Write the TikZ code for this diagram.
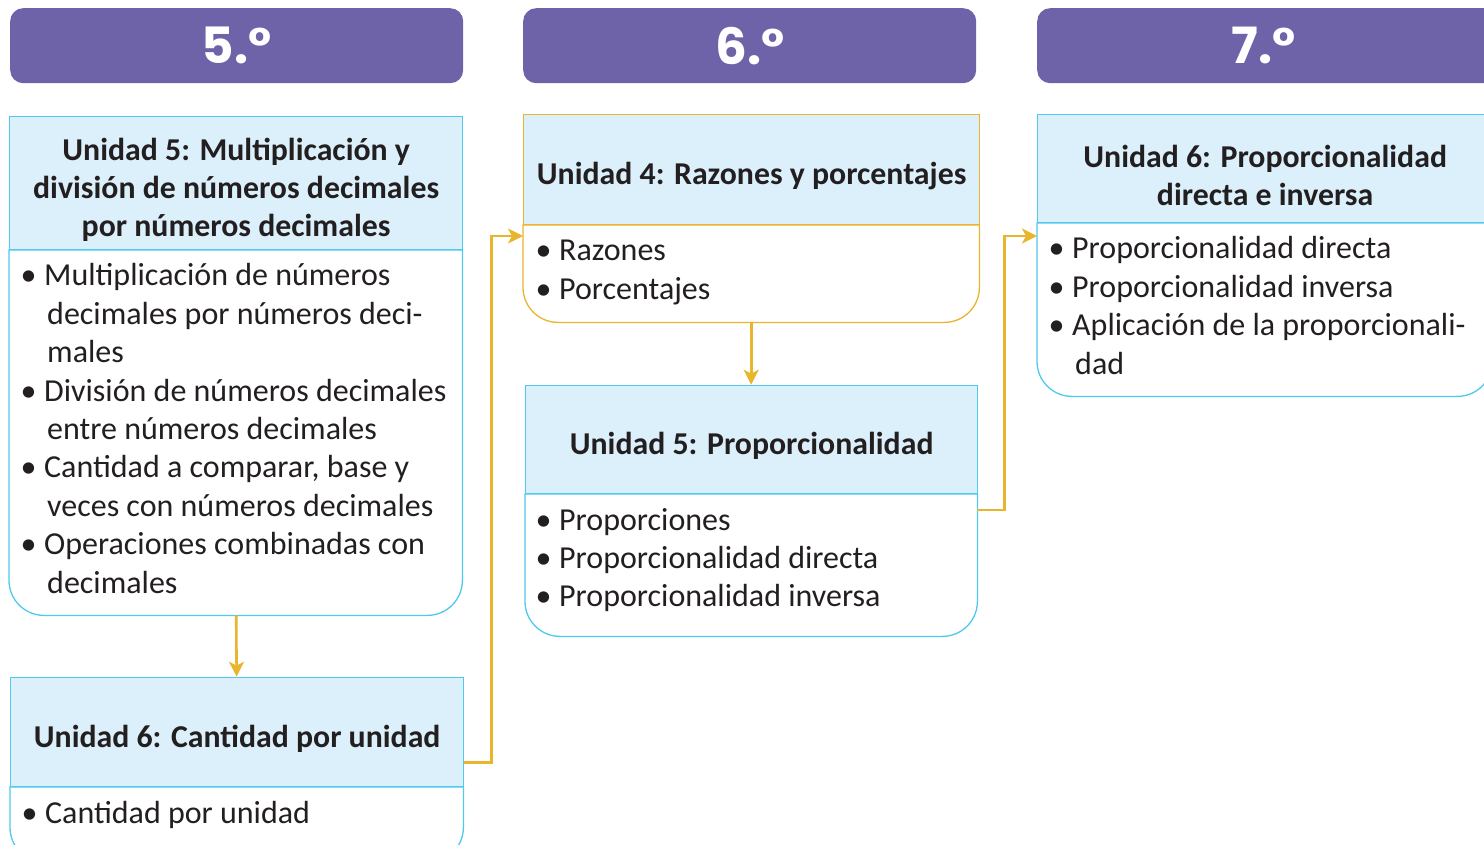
\documentclass[tikz,border=0pt]{standalone}
\usepackage{fontspec}
\setmainfont{Carlito}
\newfontfamily\gradefont{Poppins}
\usetikzlibrary{arrows.meta,calc}
\definecolor{gpurple}{HTML}{6E63A8}
\definecolor{ucyan}{HTML}{4FC9F0}
\definecolor{ufill}{HTML}{DBF0FB}
\definecolor{uyellow}{HTML}{E8B52C}
\definecolor{utext}{HTML}{231F20}
\newcommand{\bli}[1]{\makebox[21pt][l]{\hspace*{-2.5pt}•}#1}
\newcommand{\cli}[1]{\hspace*{24pt}#1}
\begin{document}
\begin{tikzpicture}[x=1pt,y=1pt,
  grade/.style={fill=gpurple,rounded corners=13pt,minimum height=75pt,inner sep=0pt,
    text=white,font=\gradefont\bfseries\fontsize{50}{54}\selectfont},
  unithead/.style={rectangle,fill=ufill,draw=ucyan,line width=1.3pt,inner sep=0pt},
  headtext/.style={inner sep=0pt,align=center,text=utext,font=\bfseries\fontsize{31.8}{38.2}\selectfont},
  unitbody/.style={rectangle,inner sep=0pt},
  outl/.style={draw=ucyan,line width=1.3pt},
  items/.style={anchor=base west,inner sep=0pt,text=utext,font=\fontsize{32}{38.4}\selectfont},
  conn/.style={draw=uyellow,line width=2.6pt,-{Stealth[length=15pt,width=15pt,inset=4pt]}}
]
\useasboundingbox (0,0) rectangle (1484,-845);
\clip (0,0) rectangle (1484,-845);
% grade bars
\node[grade,minimum width=453pt,anchor=north west] (g5) at (10,-8) {5.°};
\node[grade,minimum width=453pt,anchor=north west] (g6) at (523,-8) {6.°};
\node[grade,minimum width=475pt,anchor=north west] (g7) at (1037,-8) {\hspace*{-22pt}7.°};

% Box A
\node[unitbody,minimum width=453pt,minimum height=365pt,anchor=north west] (bA) at (9,-250) {};
\draw[outl,fill=white] (bA.north west) -- (bA.north east) -- ($(bA.south east)+(0,35)$)
  arc[start angle=0,end angle=-90,radius=35pt] -- ($(bA.south west)+(35,0)$)
  arc[start angle=270,end angle=180,radius=35pt] -- cycle;
\node[unithead,minimum width=453pt,minimum height=133pt,anchor=south west] (hA) at (bA.north west) {};
\node[headtext] (hAt) at ($(hA.center)+(0,-7)$)
  {Unidad 5: Multiplicación y\\división de números decimales\\por números decimales};
\node[items] (tA) at (23,-286) {\parbox[t]{440pt}{\raggedright
  \bli{Multiplicación de números}\\
  \cli{decimales por números deci-}\\
  \cli{males}\\
  \bli{División de números decimales}\\
  \cli{entre números decimales}\\
  \bli{Cantidad a comparar, base y}\\
  \cli{veces con números decimales}\\
  \bli{Operaciones combinadas con}\\
  \cli{decimales}}};

% Box B
\node[unitbody,minimum width=453pt,minimum height=75pt,anchor=north west] (bB) at (10,-787) {};
\draw[outl,fill=white] (bB.north west) -- (bB.north east) -- ($(bB.south east)+(0,35)$)
  arc[start angle=0,end angle=-90,radius=35pt] -- ($(bB.south west)+(35,0)$)
  arc[start angle=270,end angle=180,radius=35pt] -- cycle;
\node[unithead,minimum width=453pt,minimum height=109pt,anchor=south west] (hB) at (bB.north west) {};
\node[headtext] (hBt) at ($(hB.center)+(0,-6.5)$) {Unidad 6: Cantidad por unidad};
\node[items] (tB) at (24,-823) {\parbox[t]{440pt}{\raggedright
  \bli{Cantidad por unidad}}};

% Box C (yellow)
\node[unitbody,minimum width=456pt,minimum height=97pt,anchor=north west] (bC) at (523,-225) {};
\draw[outl,draw=uyellow,fill=white] (bC.north west) -- (bC.north east) -- ($(bC.south east)+(0,35)$)
  arc[start angle=0,end angle=-90,radius=35pt] -- ($(bC.south west)+(35,0)$)
  arc[start angle=270,end angle=180,radius=35pt] -- cycle;
\node[unithead,draw=uyellow,minimum width=456pt,minimum height=110pt,anchor=south west] (hC) at (bC.north west) {};
\node[headtext] (hCt) at ($(hC.center)+(0,-6.5)$) {Unidad 4: Razones y porcentajes};
\node[items] (tC) at (538,-261) {\parbox[t]{440pt}{\raggedright
  \bli{Razones}\\
  \bli{Porcentajes}}};

% Box D
\node[unitbody,minimum width=452pt,minimum height=142pt,anchor=north west] (bD) at (525,-494) {};
\draw[outl,fill=white] (bD.north west) -- (bD.north east) -- ($(bD.south east)+(0,35)$)
  arc[start angle=0,end angle=-90,radius=35pt] -- ($(bD.south west)+(35,0)$)
  arc[start angle=270,end angle=180,radius=35pt] -- cycle;
\node[unithead,minimum width=452pt,minimum height=108pt,anchor=south west] (hD) at (bD.north west) {};
\node[headtext] (hDt) at ($(hD.center)+(0,-6)$) {Unidad 5: Proporcionalidad};
\node[items] (tD) at (538,-530) {\parbox[t]{440pt}{\raggedright
  \bli{Proporciones}\\
  \bli{Proporcionalidad directa}\\
  \bli{Proporcionalidad inversa}}};

% Box E
\node[unitbody,minimum width=455pt,minimum height=173pt,anchor=north west] (bE) at (1037,-223) {};
\draw[outl,fill=white] (bE.north west) -- (bE.north east) -- ($(bE.south east)+(0,35)$)
  arc[start angle=0,end angle=-90,radius=35pt] -- ($(bE.south west)+(35,0)$)
  arc[start angle=270,end angle=180,radius=35pt] -- cycle;
\node[unithead,minimum width=455pt,minimum height=108pt,anchor=south west] (hE) at (bE.north west) {};
\node[headtext] (hEt) at ($(hE.center)+(0,-7)$) {Unidad 6: Proporcionalidad\\directa e inversa};
\node[items] (tE) at (1051,-259) {\parbox[t]{440pt}{\raggedright
  \bli{Proporcionalidad directa}\\
  \bli{Proporcionalidad inversa}\\
  \bli{Aplicación de la proporcionali-}\\
  \cli{dad}}};

% connectors
\coordinate (sB) at ($(hB.east)+(0,-30.5)$);
\coordinate (eC) at ($(bC.north west)+(0,-11)$);
\coordinate (sD) at ($(bD.north east)+(0,-16)$);
\coordinate (eE) at ($(bE.north west)+(0,-13)$);
\draw[conn] ($(bA.south)+(0.5,0)$) -- ($(hB.north)+(-0.5,0)$);
\draw[conn] ($(bC.south)+(0,0)$) -- (hD.north -| bC.south);
\draw[conn] (sB) -- ++(27,0) |- (eC);
\draw[conn] (sD) -- ++(27,0) |- (eE);
\end{tikzpicture}
\end{document}
